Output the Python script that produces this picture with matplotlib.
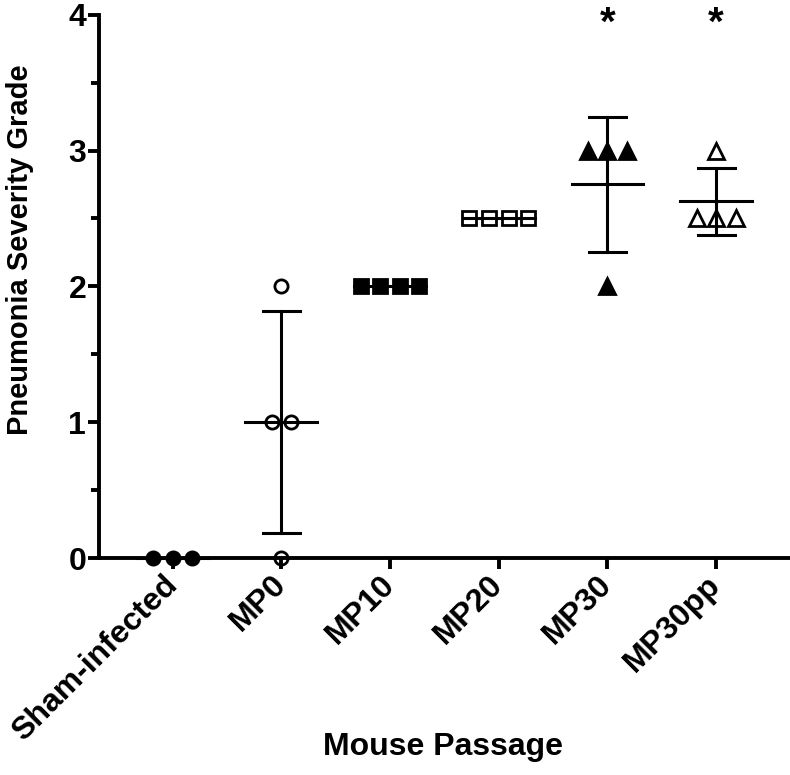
import numpy as np
import matplotlib
matplotlib.use("Agg")
import matplotlib.pyplot as plt
from matplotlib.ticker import MultipleLocator

plt.rcParams["font.family"] = ["Liberation Sans", "DejaVu Sans"]
plt.rcParams["font.weight"] = "bold"

groups = ["Sham-infected", "MP0", "MP10", "MP20", "MP30", "MP30pp"]
grades = [
    [0, 0, 0],
    [0, 1, 1, 2],
    [2, 2, 2, 2],
    [2.5, 2.5, 2.5, 2.5],
    [3, 3, 3, 2],
    [3, 2.5, 2.5, 2.5],
]
markers = ["o", "o", "s", "s", "^", "^"]
filled = [True, False, True, False, True, False]
significant = [False, False, False, False, True, True]

fig = plt.figure(figsize=(7.9, 7.75), dpi=100)
ax = fig.add_axes([0.125, 0.28, 0.875, 0.701])

spacing = 0.18
for i, vals in enumerate(grades):
    vals = np.array(vals, dtype=float)
    xs = np.zeros_like(vals)
    for v in np.unique(vals):
        idx = np.where(vals == v)[0]
        n = len(idx)
        xs[idx] = (np.arange(n) - (n - 1) / 2) * spacing
    xs = xs + i
    mean = vals.mean()
    sd = vals.std(ddof=1)
    # mean line and SD whiskers
    ax.plot([i - 0.33, i + 0.33], [mean, mean], color="black", lw=2.2, zorder=2, clip_on=False)
    if sd > 0:
        ax.plot([i, i], [mean - sd, mean + sd], color="black", lw=2.2, zorder=2)
        for y in (mean - sd, mean + sd):
            ax.plot([i - 0.17, i + 0.17], [y, y], color="black", lw=2.2, zorder=2)
    ms = 9.5 if markers[i] != "^" else 11
    ax.plot(xs, vals, linestyle="none", marker=markers[i], markersize=ms,
            markerfacecolor="black" if filled[i] else "none",
            markeredgecolor="black", markeredgewidth=2, zorder=3, clip_on=False)
    if significant[i]:
        ax.text(i, 3.85, "*", ha="center", va="baseline", fontsize=29,
                fontweight="bold", clip_on=False)

ax.set_xlim(-0.68, 5.68)
ax.set_ylim(0, 4)
ax.set_xticks(range(len(groups)))
ax.set_xticklabels(groups, rotation=45, ha="right", va="center",
                   rotation_mode="anchor", fontsize=23, fontweight="bold")
ax.yaxis.set_major_locator(MultipleLocator(1))
ax.yaxis.set_minor_locator(MultipleLocator(0.5))
for lab in ax.get_yticklabels():
    lab.set_fontsize(23)
    lab.set_fontweight("bold")

for side in ("top", "right"):
    ax.spines[side].set_visible(False)
for side in ("left", "bottom"):
    ax.spines[side].set_linewidth(2.8)
ax.tick_params(axis="x", which="major", width=2.8, length=8, pad=8)
ax.tick_params(axis="y", which="major", width=2.8, length=8, pad=1)
ax.tick_params(axis="y", which="minor", width=2.8, length=6)

fig.text(20 / 790, 1 - 250 / 775, "Pneumonia Severity Grade", rotation=90,
         ha="center", va="center", fontsize=21, fontweight="bold")
fig.text(443 / 790, 1 - 747 / 775, "Mouse Passage", ha="center", va="center",
         fontsize=23, fontweight="bold")

fig.savefig("out.png", dpi=100)
